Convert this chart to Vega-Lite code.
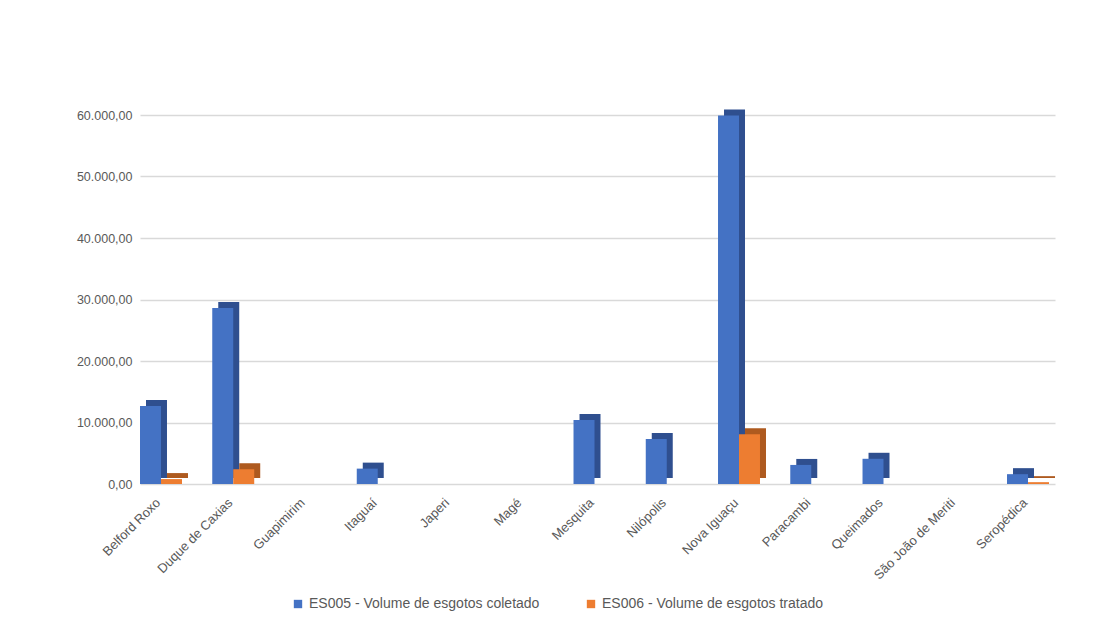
{
  "$schema": "https://vega.github.io/schema/vega-lite/v6.json",
  "autosize": {"type": "none"},
  "width": 915,
  "height": 369,
  "padding": {"left": 140, "top": 115, "right": 55, "bottom": 142},
  "background": "#ffffff",
  "config": {
    "locale": {"number": {"decimal": ",", "thousands": ".", "grouping": [3], "currency": ["R$", ""]}},
    "font": "Liberation Sans",
    "view": {"stroke": null}
  },
  "data": {"values": [
    {"municipio": "Belford Roxo", "serie": "ES005 - Volume de esgotos coletado", "valor": 12700},
    {"municipio": "Belford Roxo", "serie": "ES006 - Volume de esgotos tratado", "valor": 800},
    {"municipio": "Duque de Caxias", "serie": "ES005 - Volume de esgotos coletado", "valor": 28600},
    {"municipio": "Duque de Caxias", "serie": "ES006 - Volume de esgotos tratado", "valor": 2400},
    {"municipio": "Guapimirim", "serie": "ES005 - Volume de esgotos coletado", "valor": 0},
    {"municipio": "Guapimirim", "serie": "ES006 - Volume de esgotos tratado", "valor": 0},
    {"municipio": "Itaguaí", "serie": "ES005 - Volume de esgotos coletado", "valor": 2500},
    {"municipio": "Itaguaí", "serie": "ES006 - Volume de esgotos tratado", "valor": 0},
    {"municipio": "Japeri", "serie": "ES005 - Volume de esgotos coletado", "valor": 0},
    {"municipio": "Japeri", "serie": "ES006 - Volume de esgotos tratado", "valor": 0},
    {"municipio": "Magé", "serie": "ES005 - Volume de esgotos coletado", "valor": 0},
    {"municipio": "Magé", "serie": "ES006 - Volume de esgotos tratado", "valor": 0},
    {"municipio": "Mesquita", "serie": "ES005 - Volume de esgotos coletado", "valor": 10400},
    {"municipio": "Mesquita", "serie": "ES006 - Volume de esgotos tratado", "valor": 0},
    {"municipio": "Nilópolis", "serie": "ES005 - Volume de esgotos coletado", "valor": 7300},
    {"municipio": "Nilópolis", "serie": "ES006 - Volume de esgotos tratado", "valor": 0},
    {"municipio": "Nova Iguaçu", "serie": "ES005 - Volume de esgotos coletado", "valor": 59900},
    {"municipio": "Nova Iguaçu", "serie": "ES006 - Volume de esgotos tratado", "valor": 8100},
    {"municipio": "Paracambi", "serie": "ES005 - Volume de esgotos coletado", "valor": 3100},
    {"municipio": "Paracambi", "serie": "ES006 - Volume de esgotos tratado", "valor": 0},
    {"municipio": "Queimados", "serie": "ES005 - Volume de esgotos coletado", "valor": 4100},
    {"municipio": "Queimados", "serie": "ES006 - Volume de esgotos tratado", "valor": 0},
    {"municipio": "São João de Meriti", "serie": "ES005 - Volume de esgotos coletado", "valor": 0},
    {"municipio": "São João de Meriti", "serie": "ES006 - Volume de esgotos tratado", "valor": 0},
    {"municipio": "Seropédica", "serie": "ES005 - Volume de esgotos coletado", "valor": 1600},
    {"municipio": "Seropédica", "serie": "ES006 - Volume de esgotos tratado", "valor": 300}
  ]},
  "encoding": {
    "x": {
      "field": "municipio", "type": "nominal", "sort": null, "title": null,
      "scale": {"paddingInner": 0.336, "paddingOuter": 0},
      "axis": {"labelAngle": -45, "labelFontSize": 13, "labelColor": "#595959", "domain": false, "ticks": false, "labelPadding": 12, "grid": false, "labelOffset": -10}
    },
    "y": {
      "field": "valor", "type": "quantitative", "title": null,
      "scale": {"domain": [0, 60000], "nice": false},
      "axis": {"format": ",.2f", "values": [0, 10000, 20000, 30000, 40000, 50000, 60000], "labelFontSize": 12.5, "labelColor": "#595959", "domain": false, "ticks": false, "labelPadding": 8, "gridColor": "#d9d9d9", "gridWidth": 1.5}
    }
  },
  "layer": [
    {
      "mark": {"type": "bar", "yOffset": -6},
      "encoding": {
        "xOffset": {"field": "serie", "type": "nominal", "scale": {"paddingInner": 0, "paddingOuter": 0.143, "align": 1}},
        "color": {"field": "serie", "type": "nominal", "legend": null,
          "scale": {"domain": ["ES005 - Volume de esgotos coletado", "ES006 - Volume de esgotos tratado"], "range": ["#2f4f8f", "#ae5a1f"]}}
      }
    },
    {
      "mark": {"type": "bar"},
      "encoding": {
        "xOffset": {"field": "serie", "type": "nominal", "scale": {"paddingInner": 0, "paddingOuter": 0.143, "align": 0}},
        "color": {"field": "serie", "type": "nominal",
          "scale": {"domain": ["ES005 - Volume de esgotos coletado", "ES006 - Volume de esgotos tratado"], "range": ["#4472c4", "#ed7d31"]},
          "legend": {"title": null, "orient": "none", "direction": "horizontal", "legendX": 151, "legendY": 482, "symbolType": "square", "symbolSize": 70, "symbolStrokeWidth": 0, "labelFontSize": 14, "labelColor": "#595959", "labelLimit": 400, "columnPadding": 44}
        }
      }
    }
  ],
  "resolve": {"scale": {"color": "independent", "xOffset": "independent"}}
}
